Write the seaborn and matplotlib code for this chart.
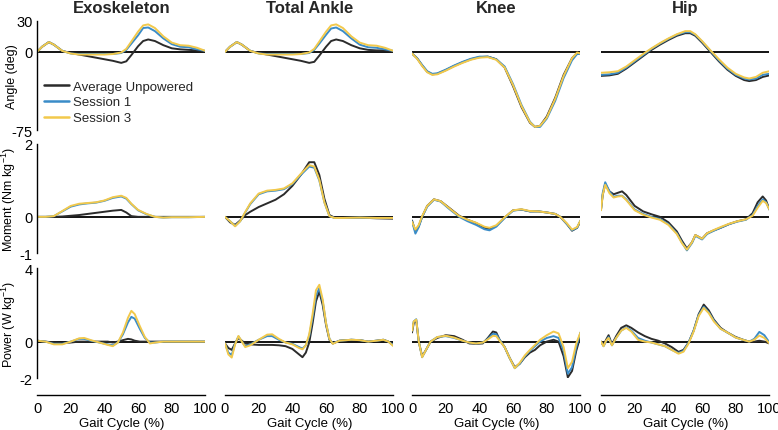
import matplotlib
matplotlib.use("Agg")
import matplotlib.pyplot as plt
import pandas as pd
import seaborn as sns

# ---------------- data ----------------
conditions = ["Average Unpowered", "Session 1", "Session 3"]
colors = ["#2b2b2b", "#3a8cc8", "#f2c94c"]
joints = ["Exoskeleton", "Total Ankle", "Knee", "Hip"]
row_labels = ["Angle (deg)", r"Moment (Nm kg$^{-1}$)", r"Power (W kg$^{-1}$)"]
row_limits = [(-75, 30), (-1, 2), (-2, 4)]
row_ticks = [[-75, 0, 30], [-1, 0, 2], [-2, 0, 4]]
x_ticks = [0, 20, 40, 60, 80, 100]

# Angle
exo_ang_pct = [0, 3, 7, 10, 15, 20, 25, 30, 35, 40, 45, 50, 53, 56, 60, 63, 66, 70, 75, 80, 85, 90, 95, 100]
exo_ang_unp = [0, 5, 9.5, 7, 1, -1, -2.5, -4, -5.5, -7, -8.5, -10.5, -9, -3, 5.5, 10.5, 12, 10.5, 6.5, 3.5, 2.5, 2, 1.5, 0.5]
exo_ang_s1 = [0, 5, 9.5, 7, 1, -1.5, -2, -2, -2, -2, -2, -1, 2, 8, 16, 23, 23.5, 20, 13, 7.5, 5, 4.5, 2.5, 1]
exo_ang_s3 = [0, 5, 9.5, 7, 1, -1.5, -2.5, -2.5, -2.5, -2.5, -2, -0.5, 3, 10, 19.5, 25.5, 26.5, 23, 15, 9, 6.5, 6, 4, 1]

ank_ang_pct = [0, 3, 7, 10, 15, 20, 25, 30, 35, 40, 45, 50, 53, 56, 60, 63, 66, 70, 75, 80, 85, 90, 95, 100]
ank_ang_unp = [0, 5, 9.5, 7, 1, -1, -2.5, -4, -5.5, -7, -8.5, -10.5, -9.5, -3.5, 5, 10.5, 12, 10.5, 6.5, 3.5, 2, 1.5, 1.5, 0.5]
ank_ang_s1 = [0, 5, 9.5, 7, 1, -1.5, -2, -2, -2, -2, -2, -1, 2, 8, 16.5, 22.5, 23.5, 20, 13, 7, 4.5, 4, 2.5, 1]
ank_ang_s3 = [0, 5, 9.5, 7, 1, -1.5, -2.5, -2.5, -2.5, -2.5, -2, -0.5, 3, 10, 19.5, 25.5, 26.5, 23, 15, 9, 6.5, 6, 4, 1]

knee_ang_pct = [0, 3, 6, 9, 12, 15, 20, 25, 30, 35, 40, 45, 50, 55, 60, 65, 70, 73, 76, 80, 85, 90, 95, 98, 100]
knee_ang_unp = [-1.5, -6, -13, -19, -21.5, -21, -17.5, -13.5, -10, -7, -5, -4.5, -7, -15, -33, -53, -68, -72, -71, -62, -44, -22, -6, -1, -2]
knee_ang_s1 = [-1.5, -6, -12.5, -18.5, -21, -20.5, -17, -13, -9.5, -6.5, -4.5, -4.5, -7, -14, -31, -51, -67, -72, -72, -64, -47, -25, -8, -2, -2]
knee_ang_s3 = [-1.5, -6.5, -13.5, -19.5, -22, -21.5, -18, -14, -10.5, -7.5, -5.5, -5, -7.5, -15, -32, -52, -67.5, -72, -71, -63, -45, -23, -6, -0.5, -1.5]

hip_ang_pct = [0, 5, 10, 15, 20, 25, 30, 35, 40, 45, 50, 53, 56, 60, 65, 70, 75, 80, 85, 88, 92, 96, 100]
hip_ang_unp = [-23, -22.5, -21, -16, -10, -4, 2, 7, 11.5, 15.5, 18, 18, 15.5, 9, 0, -9, -17, -23, -27, -28, -27, -24, -22.5]
hip_ang_s1 = [-22, -21.5, -20, -15, -9, -3, 3, 8, 12.5, 16.5, 19, 19, 16.5, 10, 1, -8, -16, -22, -25.5, -26.5, -25.5, -22, -21]
hip_ang_s3 = [-20, -19.5, -18.5, -14, -8, -2, 3.5, 8.5, 13, 17, 20, 20, 17, 10.5, 1.5, -7, -15, -21, -24.5, -25.5, -24, -20, -18.5]

# Moment
exo_mom_pct = [0, 5, 10, 15, 20, 25, 30, 35, 40, 45, 50, 53, 56, 60, 65, 70, 75, 80, 90, 100]
exo_mom_unp = [0, 0, 0, 0.01, 0.03, 0.05, 0.08, 0.11, 0.14, 0.17, 0.19, 0.12, 0.02, 0, 0, 0, 0, 0, 0, 0]
exo_mom_s1 = [0, 0, 0.02, 0.15, 0.28, 0.34, 0.37, 0.39, 0.44, 0.52, 0.56, 0.5, 0.35, 0.18, 0.07, 0.0, -0.02, -0.01, -0.01, 0]
exo_mom_s3 = [0, 0, 0.02, 0.16, 0.3, 0.36, 0.38, 0.4, 0.45, 0.54, 0.58, 0.52, 0.36, 0.19, 0.08, 0.0, -0.02, -0.01, -0.01, 0]

ank_mom_pct = [0, 3, 6, 9, 12, 15, 20, 25, 30, 35, 40, 45, 50, 53, 56, 59, 62, 65, 70, 80, 90, 100]
ank_mom_unp = [0, -0.15, -0.22, -0.1, 0.05, 0.14, 0.27, 0.37, 0.47, 0.62, 0.85, 1.15, 1.5, 1.5, 1.15, 0.5, 0.05, -0.02, -0.03, -0.02, -0.04, -0.05]
ank_mom_s1 = [0, -0.12, -0.25, -0.12, 0.12, 0.35, 0.62, 0.7, 0.72, 0.76, 0.9, 1.15, 1.38, 1.35, 1.0, 0.4, 0.02, -0.03, -0.03, -0.02, -0.03, -0.03]
ank_mom_s3 = [0, -0.12, -0.26, -0.12, 0.13, 0.37, 0.64, 0.72, 0.74, 0.78, 0.92, 1.18, 1.42, 1.38, 1.02, 0.4, 0.02, -0.03, -0.03, -0.02, -0.03, -0.03]

knee_mom_pct = [0, 2, 4, 6, 9, 13, 17, 22, 28, 33, 38, 43, 46, 50, 55, 60, 65, 70, 75, 80, 85, 88, 92, 95, 98, 100]
knee_mom_unp = [-0.1, -0.4, -0.25, 0.0, 0.3, 0.48, 0.43, 0.25, 0.03, -0.08, -0.17, -0.3, -0.33, -0.25, -0.02, 0.18, 0.2, 0.15, 0.15, 0.12, 0.08, 0.0, -0.2, -0.38, -0.3, -0.12]
knee_mom_s1 = [-0.12, -0.46, -0.28, 0.0, 0.28, 0.47, 0.42, 0.22, 0.0, -0.12, -0.22, -0.34, -0.37, -0.27, -0.03, 0.17, 0.2, 0.15, 0.15, 0.12, 0.08, 0.0, -0.2, -0.37, -0.3, -0.1]
knee_mom_s3 = [-0.14, -0.35, -0.22, 0.02, 0.3, 0.48, 0.43, 0.24, 0.02, -0.08, -0.16, -0.27, -0.3, -0.23, -0.01, 0.18, 0.21, 0.16, 0.15, 0.12, 0.08, 0.0, -0.18, -0.35, -0.28, -0.1]

hip_mom_pct = [0, 1, 2.5, 5, 7.5, 10, 12.5, 15, 20, 25, 30, 35, 40, 45, 48, 51, 54, 56, 58, 60, 63, 67, 71, 76, 81, 86, 90, 93, 96, 98, 100]
hip_mom_unp = [0.2, 0.6, 0.9, 0.7, 0.62, 0.66, 0.7, 0.6, 0.3, 0.15, 0.07, 0.0, -0.15, -0.4, -0.65, -0.87, -0.7, -0.5, -0.55, -0.6, -0.45, -0.37, -0.3, -0.2, -0.12, -0.07, 0.1, 0.4, 0.56, 0.45, 0.2]
hip_mom_s1 = [0.2, 0.65, 0.95, 0.7, 0.55, 0.58, 0.58, 0.48, 0.2, 0.08, 0.0, -0.06, -0.2, -0.45, -0.7, -0.92, -0.72, -0.52, -0.57, -0.62, -0.47, -0.38, -0.3, -0.2, -0.13, -0.08, 0.05, 0.3, 0.48, 0.4, 0.2]
hip_mom_s3 = [0.18, 0.6, 0.88, 0.65, 0.53, 0.56, 0.57, 0.46, 0.18, 0.06, -0.02, -0.08, -0.22, -0.47, -0.72, -0.9, -0.7, -0.5, -0.55, -0.6, -0.45, -0.36, -0.28, -0.19, -0.12, -0.07, 0.03, 0.25, 0.44, 0.38, 0.2]

# Power
exo_pow_pct = [0, 5, 10, 15, 20, 25, 28, 32, 37, 42, 45, 48, 51, 54, 56, 58, 61, 64, 67, 70, 75, 80, 90, 100]
exo_pow_unp = [0.05, 0.0, -0.05, -0.08, -0.05, 0.0, 0.0, 0.0, 0.0, 0.0, -0.05, 0.0, 0.08, 0.15, 0.12, 0.05, 0.0, 0.0, 0.0, 0.0, 0.0, 0.0, 0.0, 0.0]
exo_pow_s1 = [0.05, 0.0, -0.12, -0.12, 0.0, 0.15, 0.15, 0.05, -0.05, -0.15, -0.2, -0.05, 0.4, 1.05, 1.35, 1.25, 0.7, 0.2, -0.05, -0.05, 0.0, 0.0, 0.0, 0.0]
exo_pow_s3 = [0.05, 0.0, -0.15, -0.15, 0.0, 0.18, 0.2, 0.08, -0.05, -0.18, -0.25, -0.05, 0.5, 1.3, 1.68, 1.5, 0.85, 0.25, -0.1, -0.05, 0.0, 0.0, 0.0, 0.0]

ank_pow_pct = [0, 2, 4, 6, 8, 10, 12, 15, 20, 25, 28, 32, 36, 40, 44, 46, 48, 50, 52, 54, 56, 58, 60, 62, 64, 68, 75, 80, 85, 90, 94, 97, 100]
ank_pow_unp = [-0.1, -0.35, -0.45, -0.1, 0.2, 0.05, -0.1, -0.15, -0.18, -0.18, -0.18, -0.2, -0.25, -0.4, -0.7, -0.85, -0.6, -0.05, 1.0, 2.2, 2.73, 2.0, 0.9, 0.1, -0.1, 0.05, 0.1, 0.08, 0.0, 0.05, 0.1, 0.0, -0.2]
ank_pow_s1 = [-0.1, -0.6, -0.73, -0.1, 0.28, 0.0, -0.25, -0.15, 0.1, 0.3, 0.3, 0.1, -0.05, -0.12, -0.3, -0.38, -0.2, 0.3, 1.3, 2.5, 2.92, 2.2, 1.0, 0.15, -0.1, 0.05, 0.1, 0.08, 0.0, 0.05, 0.1, 0.0, -0.2]
ank_pow_s3 = [-0.1, -0.7, -0.87, -0.15, 0.31, 0.0, -0.3, -0.2, 0.1, 0.38, 0.4, 0.15, -0.05, -0.15, -0.35, -0.42, -0.2, 0.4, 1.5, 2.8, 3.1, 2.3, 1.0, 0.15, -0.12, 0.05, 0.1, 0.08, 0.0, 0.05, 0.1, 0.0, -0.25]

knee_pow_pct = [0, 1, 2.5, 4, 6, 8, 11, 15, 20, 25, 30, 34, 38, 42, 45, 48, 50, 52, 55, 58, 61, 64, 67, 70, 73, 76, 80, 84, 87, 90, 92.5, 95, 97.5, 100]
knee_pow_unp = [0.5, 1.0, 1.15, 0.0, -0.8, -0.5, 0.0, 0.2, 0.35, 0.3, 0.1, -0.1, -0.12, -0.1, 0.2, 0.55, 0.5, 0.1, -0.3, -0.9, -1.4, -1.2, -0.85, -0.6, -0.45, -0.2, 0.0, 0.1, 0.0, -0.8, -1.95, -1.6, -0.5, 0.3]
knee_pow_s1 = [0.6, 1.1, 1.22, 0.0, -0.85, -0.5, 0.0, 0.25, 0.3, 0.2, 0.05, -0.05, -0.1, -0.05, 0.15, 0.43, 0.4, 0.1, -0.3, -0.9, -1.45, -1.2, -0.8, -0.5, -0.25, 0.0, 0.2, 0.3, 0.2, -0.5, -1.75, -1.4, -0.3, 0.5]
knee_pow_s3 = [0.6, 1.1, 1.2, 0.0, -0.85, -0.5, 0.0, 0.25, 0.32, 0.22, 0.05, -0.05, -0.1, -0.05, 0.12, 0.31, 0.3, 0.05, -0.3, -0.9, -1.45, -1.15, -0.75, -0.45, -0.18, 0.1, 0.35, 0.55, 0.45, -0.3, -1.45, -1.1, -0.1, 0.5]

hip_pow_pct = [0, 1.5, 3, 4.5, 6.5, 9, 12, 15, 18, 22, 26, 30, 34, 38, 42, 46, 49, 52, 55, 58, 61, 64, 67, 71, 75, 80, 85, 88, 91, 94, 97, 100]
hip_pow_unp = [0, -0.2, 0.1, 0.35, -0.15, 0.3, 0.75, 0.89, 0.75, 0.5, 0.3, 0.15, 0.05, -0.1, -0.3, -0.56, -0.45, -0.05, 0.6, 1.5, 2.02, 1.7, 1.2, 0.75, 0.5, 0.25, 0.08, 0.0, 0.0, 0.05, 0.0, -0.1]
hip_pow_s1 = [0, -0.25, 0.0, 0.25, -0.2, 0.2, 0.6, 0.78, 0.6, 0.2, 0.05, -0.05, -0.15, -0.25, -0.45, -0.62, -0.5, -0.05, 0.6, 1.45, 1.9, 1.6, 1.15, 0.7, 0.5, 0.22, 0.08, 0.0, 0.15, 0.53, 0.35, -0.05]
hip_pow_s3 = [0, -0.25, 0.05, 0.2, -0.2, 0.2, 0.6, 0.75, 0.55, 0.1, 0.0, -0.05, -0.15, -0.25, -0.45, -0.66, -0.55, -0.1, 0.55, 1.4, 1.84, 1.55, 1.1, 0.7, 0.5, 0.22, 0.08, 0.0, 0.1, 0.33, 0.2, -0.1]

panels = [
    [(exo_ang_pct, exo_ang_unp, exo_ang_s1, exo_ang_s3),
     (ank_ang_pct, ank_ang_unp, ank_ang_s1, ank_ang_s3),
     (knee_ang_pct, knee_ang_unp, knee_ang_s1, knee_ang_s3),
     (hip_ang_pct, hip_ang_unp, hip_ang_s1, hip_ang_s3)],
    [(exo_mom_pct, exo_mom_unp, exo_mom_s1, exo_mom_s3),
     (ank_mom_pct, ank_mom_unp, ank_mom_s1, ank_mom_s3),
     (knee_mom_pct, knee_mom_unp, knee_mom_s1, knee_mom_s3),
     (hip_mom_pct, hip_mom_unp, hip_mom_s1, hip_mom_s3)],
    [(exo_pow_pct, exo_pow_unp, exo_pow_s1, exo_pow_s3),
     (ank_pow_pct, ank_pow_unp, ank_pow_s1, ank_pow_s3),
     (knee_pow_pct, knee_pow_unp, knee_pow_s1, knee_pow_s3),
     (hip_pow_pct, hip_pow_unp, hip_pow_s1, hip_pow_s3)],
]

# ---------------- style ----------------
sns.set_theme(style="white")
plt.rcParams["font.family"] = ["Liberation Sans", "DejaVu Sans"]
plt.rcParams["mathtext.fontset"] = "custom"
plt.rcParams["mathtext.rm"] = "Liberation Sans"
plt.rcParams["mathtext.it"] = "Liberation Sans:italic"
plt.rcParams["axes.unicode_minus"] = False

fig = plt.figure(figsize=(7.78, 4.31), dpi=100)
lefts = [0.0476, 0.2892, 0.5296, 0.7725]
width = 0.2165
bottoms = [0.696, 0.41, 0.12]
heights = [0.2536, 0.2536, 0.2552]
palette = dict(zip(conditions, colors))

for r in range(3):
    for c in range(4):
        ax = fig.add_axes([lefts[c], bottoms[r], width, heights[r]])
        pct, unp, s1, s3 = panels[r][c]
        df = pd.concat([
            pd.DataFrame({"pct": pct, "value": vals, "Condition": name})
            for name, vals in zip(conditions, [unp, s1, s3])
        ], ignore_index=True)
        ax.axhline(0, color="black", lw=1.3, zorder=1)
        sns.lineplot(data=df, x="pct", y="value", hue="Condition",
                     hue_order=conditions, palette=palette, estimator=None,
                     sort=False, lw=1.4, ax=ax, legend=(r == 0 and c == 0))
        ax.set_xlim(0, 100)
        ax.set_ylim(*row_limits[r])
        for s in ax.spines.values():
            s.set_visible(False)
            s.set_color("black")
            s.set_linewidth(1.0)
        if c == 0:
            ax.spines["left"].set_visible(True)
            ax.set_yticks(row_ticks[r])
            ax.set_yticklabels([str(t) for t in row_ticks[r]])
            ax.tick_params(axis="y", direction="in", length=3, width=1,
                           labelsize=10.5, pad=3, colors="black")
            ax.set_ylabel(row_labels[r], fontsize=9, color="black")
            ax.yaxis.set_label_coords(-0.112, 0.5)
        else:
            ax.set_yticks([])
            ax.set_ylabel("")
        if r == 2:
            ax.spines["bottom"].set_visible(True)
            ax.spines["bottom"].set_position(("outward", 12))
            ax.set_xticks(x_ticks)
            ax.set_xticklabels([str(t) for t in x_ticks])
            ax.tick_params(axis="x", direction="in", length=3, width=1,
                           labelsize=10.5, pad=4, colors="black")
            ax.set_xlabel("Gait Cycle (%)", fontsize=9.5, color="black", labelpad=2)
        else:
            ax.set_xticks([])
            ax.set_xlabel("")
        if r == 0:
            ax.set_title(joints[c], fontsize=12, fontweight="bold", pad=6)
        if r == 0 and c == 0:
            handles, labels = ax.get_legend_handles_labels()
            leg = ax.legend(handles, labels, loc="upper left",
                            bbox_to_anchor=(0.04, 0.455), frameon=False,
                            fontsize=9.5, handlelength=1.9, handletextpad=0.35,
                            labelspacing=0.28, borderpad=0, borderaxespad=0)
            for line in leg.get_lines():
                line.set_linewidth(1.8)

fig.savefig("out.png", dpi=100)
